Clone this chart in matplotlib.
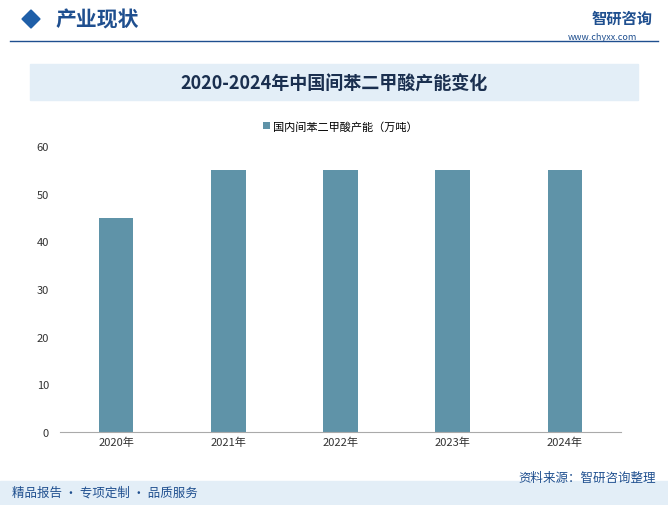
import matplotlib
matplotlib.use("Agg")
import matplotlib.pyplot as plt
from matplotlib.patches import Rectangle, Polygon

plt.rcParams["font.family"] = "Noto Sans CJK SC"

years = ["2020年", "2021年", "2022年", "2023年", "2024年"]
capacity = [45, 55, 55, 55, 55]
yticks = [0, 10, 20, 30, 40, 50, 60]
title = "2020-2024年中国间苯二甲酸产能变化"
legend_label = "国内间苯二甲酸产能（万吨）"

W, H = 668, 506
fig = plt.figure(figsize=(W/100, H/100), dpi=100)

def fx(x): return x / W
def fy(y): return 1 - y / H

# header
fig.patches.append(Polygon([(fx(22), fy(20)), (fx(31), fy(11)), (fx(40), fy(20)), (fx(31), fy(29))],
                           closed=True, transform=fig.transFigure, color="#1f5fa8"))
fig.text(fx(55), fy(20), "产业现状", fontsize=15, fontweight="bold", color="#1f4f8f", va="center")
fig.lines.append(plt.Line2D([fx(10), fx(658)], [fy(42), fy(42)], transform=fig.transFigure, color="#1f4f8f", lw=1))
fig.text(fx(592), fy(19), "智研咨询", fontsize=11, fontweight="bold", color="#1f4f8f", va="center")
fig.text(fx(568), fy(38), "www.chyxx.com", fontsize=6.5, color="#1f4f8f", va="center")

# title band
fig.patches.append(Rectangle((fx(30), fy(101)), fx(608), 36/H, transform=fig.transFigure, color="#e3eef7"))
fig.text(fx(334), fy(84), title, fontsize=13, fontweight="bold", color="#1a2f4f", ha="center", va="center")

# footer
fig.patches.append(Rectangle((0, 0), 1, 24/H, transform=fig.transFigure, color="#e3eef7"))
fig.text(fx(12), fy(493), "精品报告 · 专项定制 · 品质服务", fontsize=9, color="#1f4f8f", va="center")
fig.text(fx(656), fy(478), "资料来源：智研咨询整理", fontsize=9, color="#1f4f8f", va="center", ha="right")

ax = fig.add_axes([fx(60), fy(433), fx(621) - fx(60), (433 - 147) / H])
x = range(len(years))
bars = ax.bar(x, capacity, width=0.31, color="#5f93a8", label=legend_label)
ax.set_ylim(0, 60)
ax.set_yticks(yticks)
ax.set_xlim(-0.5, len(years) - 0.5)
ax.set_xticks(list(x))
ax.set_xticklabels(years)
ax.tick_params(axis="both", labelsize=8, colors="#333333", length=0)
ax.tick_params(axis="y", pad=8)
for s in ["top", "right", "left"]:
    ax.spines[s].set_visible(False)
ax.spines["bottom"].set_color("#aaaaaa")
ax.legend(loc="upper center", bbox_to_anchor=(0.5, (433 - 112) / (433 - 147)), frameon=False,
          fontsize=8, handlelength=0.6, handleheight=0.6, handletextpad=0.3)

fig.savefig("out.png", dpi=100)
